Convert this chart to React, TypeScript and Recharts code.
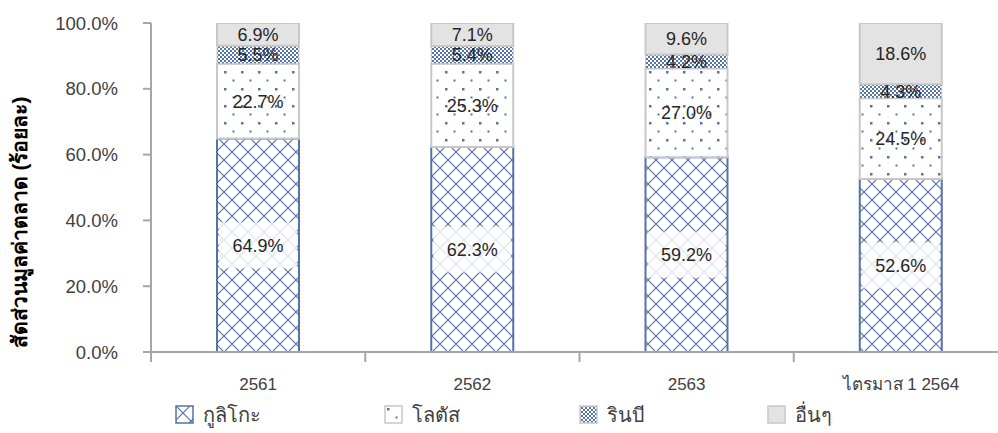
import React from "react";
import { Bar, BarChart, LabelList, Legend, XAxis, YAxis } from "recharts";

const categories = ["2561", "2562", "2563", "ไตรมาส 1 2564"];
const glico = [64.9, 62.3, 59.2, 52.6];
const lotus = [22.7, 25.3, 27.0, 24.5];
const rinbi = [5.5, 5.4, 4.2, 4.3];
const others = [6.9, 7.1, 9.6, 18.6];
const yTicks = [0, 20, 40, 60, 80, 100];

const seriesNames = ["กูลิโกะ", "โลตัส", "รินบี", "อื่นๆ"];

const data = categories.map((name, i) => ({
  name,
  glico: glico[i],
  lotus: lotus[i],
  rinbi: rinbi[i],
  others: others[i],
}));

const FONT = '"Liberation Sans", Arial, "Noto Sans", sans-serif';
const TEXT = "#404040";
const AXIS = "#a6a6a6";
const BLUE = "#5673a6";

const PLOT_LEFT = 151;
const PLOT_RIGHT = 1008;
const HALF_BAND = (PLOT_RIGHT - PLOT_LEFT) / categories.length / 2;

const fmt = (v: number) => v.toFixed(1) + "%";

function XTick(props: any) {
  const { x, y, payload } = props;
  return (
    <g>
      <line x1={x - HALF_BAND} x2={x - HALF_BAND} y1={y} y2={y + 10} stroke={AXIS} strokeWidth={2} />
      <text x={x} y={y + 38} textAnchor="middle" fontSize={17} fill={TEXT} fontFamily={FONT}>
        {payload.value}
      </text>
    </g>
  );
}

function makeLabel(withBox: boolean) {
  return (props: any) => {
    const { x, y, width, height, value } = props;
    const cx = x + width / 2;
    const cy = y + height / 2;
    return (
      <g>
        {withBox && (
          <rect x={x + 2} y={cy - 23} width={width - 4} height={46} fill="#ffffff" fillOpacity={0.8} />
        )}
        <text
          x={cx}
          y={cy}
          dy={6.5}
          textAnchor="middle"
          fontSize={18}
          fill="#262626"
          fontFamily={FONT}
        >
          {fmt(Number(value))}
        </text>
      </g>
    );
  };
}

const legendFills = ["url(#pGlico)", "url(#pLotus)", "url(#pRinbi)", "#e3e3e3"];
const legendStrokes = [BLUE, "#c8c8c8", "#c8c8c8", "#c8c8c8"];
const legendLeft = [175, 384, 579, 767];

function LegendContent() {
  return (
    <div style={{ position: "relative", width: 998, height: 26, fontFamily: FONT }}>
      {seriesNames.map((n, i) => (
        <div
          key={n}
          style={{ position: "absolute", left: legendLeft[i], top: 0, display: "flex", alignItems: "center" }}
        >
          <svg width={20} height={20} style={{ display: "block" }}>
            <rect x={1} y={1} width={17} height={17} fill={legendFills[i]} stroke={legendStrokes[i]} strokeWidth={1.5} />
          </svg>
          <span style={{ marginLeft: 8, fontSize: 20, color: TEXT }}>{n}</span>
        </div>
      ))}
    </div>
  );
}

export default function App() {
  return (
    <div style={{ position: "fixed", left: 0, top: 0, width: 998, height: 433, overflow: "hidden", background: "#fff" }}>
      <BarChart
        width={1010}
        height={433}
        data={data}
        margin={{ top: 23, right: 2, left: 0, bottom: 0 }}
        barSize={82}
      >
        <defs>
          <pattern id="pGlico" patternUnits="userSpaceOnUse" width={16} height={16}>
            <rect width={16} height={16} fill="#fff" />
            <path d="M0 0 L16 16 M16 0 L0 16" stroke={BLUE} strokeWidth={1.2} />
          </pattern>
          <pattern id="pLotus" patternUnits="userSpaceOnUse" width={17} height={17}>
            <rect width={17} height={17} fill="#fff" />
            <rect x={3} y={3} width={2.5} height={2.5} fill={BLUE} />
            <rect x={11.5} y={11.5} width={2} height={2} fill={BLUE} />
          </pattern>
          <pattern id="pRinbi" patternUnits="userSpaceOnUse" width={4} height={4}>
            <rect width={4} height={4} fill="#fff" />
            <rect x={0} y={0} width={2} height={2} fill={BLUE} />
            <rect x={2} y={2} width={2} height={2} fill={BLUE} />
          </pattern>
        </defs>
        <XAxis
          dataKey="name"
          height={81}
          tickLine={false}
          tickSize={0}
          tickMargin={0}
          axisLine={{ stroke: AXIS, strokeWidth: 2 }}
          tick={<XTick />}
          interval={0}
        />
        <YAxis
          width={151}
          domain={[0, 100]}
          ticks={yTicks}
          allowDataOverflow
          tickFormatter={fmt}
          tickSize={8}
          tickMargin={25}
          tickLine={{ stroke: AXIS, strokeWidth: 2 }}
          axisLine={{ stroke: AXIS, strokeWidth: 2 }}
          tick={{ fontSize: 18.5, fill: TEXT, fontFamily: FONT }}
          label={{
            value: "สัดส่วนมูลค่าตลาด (ร้อยละ)",
            angle: -90,
            position: "insideLeft",
            offset: 0,
            dx: 20,
            dy: 35,
            style: { fontSize: 21, fontWeight: "bold", fill: "#000", fontFamily: FONT, textAnchor: "middle" },
          }}
        />
        <Legend
          verticalAlign="middle"
          align="center"
          content={<LegendContent />}
          wrapperStyle={{ top: 399, left: 0, width: 998 }}
        />
        <Bar dataKey="glico" name={seriesNames[0]} stackId="s" fill="url(#pGlico)" stroke={BLUE} strokeWidth={2} isAnimationActive={false}>
          <LabelList dataKey="glico" content={makeLabel(true)} />
        </Bar>
        <Bar dataKey="lotus" name={seriesNames[1]} stackId="s" fill="url(#pLotus)" stroke="#c8c8c8" strokeWidth={2} isAnimationActive={false}>
          <LabelList dataKey="lotus" content={makeLabel(false)} />
        </Bar>
        <Bar dataKey="rinbi" name={seriesNames[2]} stackId="s" fill="url(#pRinbi)" stroke="#c8c8c8" strokeWidth={1} isAnimationActive={false}>
          <LabelList dataKey="rinbi" content={makeLabel(false)} />
        </Bar>
        <Bar dataKey="others" name={seriesNames[3]} stackId="s" fill="#e3e3e3" stroke="#c8c8c8" strokeWidth={2} isAnimationActive={false}>
          <LabelList dataKey="others" content={makeLabel(false)} />
        </Bar>
      </BarChart>
    </div>
  );
}
